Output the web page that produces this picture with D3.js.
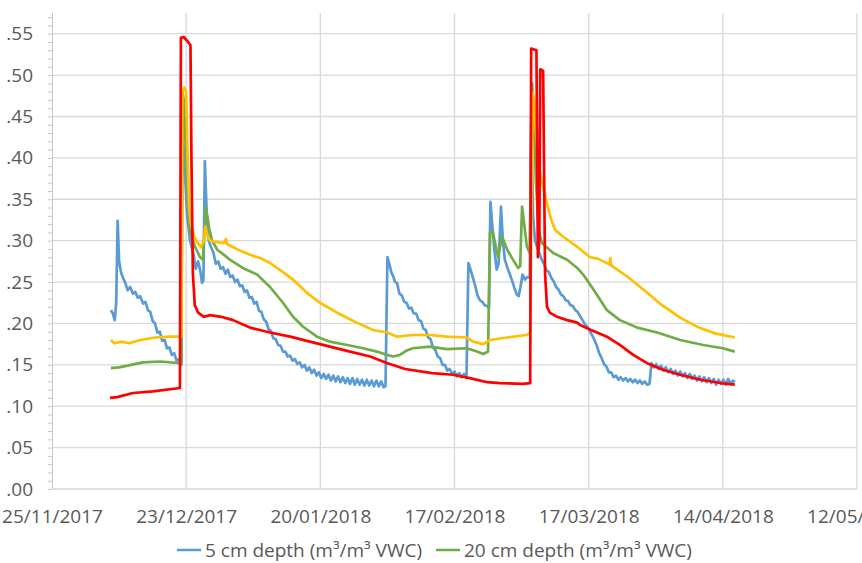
<!DOCTYPE html>
<html>
<head>
<meta charset="utf-8">
<script src="https://cdn.jsdelivr.net/npm/d3@7"></script>
<style>
  body { margin: 0; background: #fff; }
  text { font-family: "Open Sans", sans-serif; fill: #595959; }
</style>
</head>
<body>
<script>
// day offsets are counted from 25/11/2017
const startDate = Date.UTC(2017, 10, 25);

const blueDays = [12.3,12.7,13.1,13.4,13.7,14.0,14.4,14.8,15.3,15.8,16.3,16.9,17.4,17.9,18.4,19.0,19.5,20.0,20.5,21.0,21.5,22.0,22.5,23.0,23.5,24.0,24.5,25.0,25.5,26.0,26.5,27.0,
  27.2,27.6,28.2,28.8,29.5,30.0,30.5,31.0,31.3,31.6,31.9,
  32.3,32.7,33.2,33.7,34.2,34.7,35.2,35.7,36.2,36.7,37.2,37.7,38.2,38.7,39.2,39.7,40.2,40.7,41.2,41.7,42.2,42.7,43.2,43.7,44.2,44.7,45.2,45.7,46.2,46.7,47.2,47.7,48.2,48.7,49.2,49.7,50.2,50.7,51.2,51.7,52.2,52.7,53.2,53.7,54.2,54.7,55.2,55.7,56.2,56.7,57.2,57.7,58.2,58.7,59.2,59.7,60.2,60.7,61.2,61.7,62.2,62.7,63.2,63.7,64.2,64.7,65.2,65.7,66.2,66.7,67.2,67.7,68.2,68.7,69.2,69.6,
  70.0,70.4,70.8,71.2,71.6,72.0,72.5,73.0,73.5,74.0,74.5,75.0,75.5,76.0,76.5,77.0,77.5,78.0,78.5,79.0,79.5,80.0,80.5,81.0,81.5,82.0,82.5,83.0,83.5,84.0,84.5,85.0,85.5,86.0,86.5,
  86.9,87.3,87.8,88.3,88.8,89.3,89.8,90.3,90.8,91.2,
  91.5,91.9,92.3,92.8,93.2,
  93.7,94.1,94.5,95.0,95.5,96.0,96.5,97.0,97.4,97.8,98.2,98.7,99.2,99.7,
  100.0,100.4,100.8,101.2,101.7,102.2,102.7,103.2,103.7,104.2,104.7,105.2,105.7,106.2,106.7,107.2,107.7,108.2,108.7,109.2,109.7,110.2,110.7,111.2,111.7,112.2,112.7,113.2,113.7,114.2,114.7,115.2,115.7,116.2,116.7,117.2,117.7,118.2,118.7,119.2,119.7,120.2,120.7,121.2,121.7,122.2,122.7,123.2,123.7,124.2,124.7,
  125.1,125.6,126.1,126.6,127.1,127.6,128.1,128.6,129.1,129.6,130.1,130.6,131.1,131.6,132.1,132.6,133.1,133.6,134.1,134.6,135.1,135.6,136.1,136.6,137.1,137.6,138.1,138.6,139.1,139.6,140.1,140.6,141.1,141.6,142.1,142.5];
const blueVals = [0.216,0.212,0.204,0.225,0.324,0.275,0.262,0.255,0.249,0.240,0.244,0.236,0.238,0.231,0.233,0.224,0.226,0.216,0.214,0.203,0.200,0.189,0.190,0.179,0.180,0.170,0.171,0.162,0.164,0.155,0.157,0.150,
  0.430,0.400,0.330,0.300,0.285,0.266,0.275,0.262,0.249,0.252,0.396,
  0.330,0.300,0.292,0.285,0.272,0.275,0.266,0.268,0.260,0.265,0.256,0.258,0.250,0.253,0.245,0.246,0.238,0.240,0.231,0.232,0.224,0.226,0.215,0.214,0.205,0.202,0.193,0.191,0.182,0.181,0.174,0.173,0.166,0.166,0.160,0.161,0.155,0.157,0.151,0.153,0.147,0.150,0.143,0.147,0.140,0.144,0.137,0.141,0.134,0.139,0.133,0.138,0.131,0.137,0.130,0.136,0.129,0.135,0.128,0.134,0.127,0.134,0.126,0.133,0.126,0.132,0.125,0.132,0.125,0.131,0.124,0.131,0.124,0.130,0.123,0.124,
  0.280,0.272,0.262,0.257,0.250,0.249,0.236,0.234,0.226,0.225,0.218,0.219,0.212,0.212,0.204,0.203,0.194,0.192,0.183,0.181,0.171,0.168,0.160,0.158,0.150,0.150,0.143,0.145,0.139,0.142,0.136,0.140,0.135,0.139,0.134,
  0.273,0.266,0.256,0.246,0.234,0.228,0.226,0.222,0.221,0.218,
  0.347,0.318,0.290,0.265,0.272,
  0.341,0.300,0.277,0.268,0.260,0.252,0.243,0.235,0.233,0.245,0.259,0.253,0.256,0.255,
  0.450,0.330,0.300,0.293,0.285,0.277,0.272,0.264,0.262,0.255,0.251,0.244,0.241,0.235,0.233,0.228,0.227,0.222,0.221,0.216,0.214,0.209,0.204,0.199,0.196,0.191,0.186,0.180,0.173,0.164,0.158,0.151,0.148,0.141,0.141,0.135,0.137,0.132,0.135,0.131,0.134,0.130,0.133,0.129,0.132,0.128,0.131,0.127,0.130,0.126,0.127,
  0.152,0.147,0.151,0.145,0.149,0.143,0.147,0.141,0.145,0.139,0.143,0.137,0.142,0.136,0.140,0.134,0.139,0.133,0.137,0.131,0.136,0.130,0.135,0.129,0.134,0.128,0.133,0.126,0.132,0.127,0.132,0.126,0.133,0.127,0.131,0.129];

const greenDays = [12.3,14.0,16.5,19.0,22.5,26.7,27.0,27.2,27.5,28.0,28.3,28.8,29.8,30.9,31.5,32.1,32.8,33.4,34.5,36.3,37.1,39.8,42.8,45.5,48.2,50.3,52.4,55.3,58.0,61.6,64.9,67.8,69.9,71.2,72.6,73.9,75.3,78.9,82.4,86.6,88.7,90.0,91.0,91.4,92.0,93.1,93.9,95.0,96.2,97.3,97.7,98.1,99.1,99.7,100.2,100.7,101.0,101.6,102.3,104.6,107.5,109.6,111.0,113.0,115.8,118.5,122.1,126.3,131.1,135.9,140.0,142.5];
const greenVals = [0.146,0.147,0.150,0.153,0.154,0.152,0.152,0.480,0.470,0.400,0.360,0.313,0.293,0.280,0.277,0.341,0.315,0.300,0.289,0.281,0.277,0.267,0.259,0.244,0.225,0.208,0.196,0.184,0.178,0.174,0.170,0.166,0.162,0.160,0.162,0.167,0.170,0.172,0.169,0.170,0.166,0.163,0.166,0.310,0.310,0.280,0.305,0.289,0.277,0.267,0.269,0.341,0.293,0.285,0.490,0.420,0.370,0.310,0.297,0.285,0.277,0.267,0.258,0.241,0.216,0.204,0.195,0.189,0.180,0.174,0.170,0.166];

const yellowDays = [12.3,13.0,14.5,16.0,18.5,21.5,24.5,27.0,27.2,27.6,28.0,28.3,28.6,29.0,29.7,30.3,31.1,31.7,32.0,32.5,33.0,34.7,35.9,36.3,36.5,37.8,39.2,41.3,43.4,45.5,48.2,50.3,53.2,55.9,59.5,63.6,67.0,70.0,72.0,75.3,78.9,82.4,86.6,87.9,90.0,91.4,95.0,99.1,99.8,100.3,100.6,101.0,101.6,102.2,102.7,103.3,104.2,105.0,106.6,109.5,112.3,114.0,116.4,116.5,116.7,120.0,123.6,127.3,131.1,135.0,138.4,142.5];
const yellowVals = [0.180,0.176,0.178,0.176,0.180,0.183,0.184,0.184,0.480,0.485,0.480,0.400,0.340,0.320,0.305,0.298,0.292,0.300,0.317,0.305,0.300,0.298,0.297,0.302,0.296,0.292,0.288,0.283,0.279,0.273,0.262,0.253,0.237,0.225,0.213,0.201,0.192,0.189,0.184,0.186,0.186,0.184,0.183,0.178,0.175,0.180,0.183,0.186,0.189,0.479,0.470,0.430,0.390,0.372,0.360,0.345,0.325,0.313,0.305,0.293,0.280,0.278,0.271,0.279,0.270,0.257,0.240,0.222,0.207,0.195,0.188,0.183];

const redDays = [12.1,13.6,16.9,21.1,26.7,26.9,27.5,28.4,28.9,29.1,29.4,29.8,30.5,31.7,33.0,35.3,37.8,41.3,45.5,49.7,53.8,58.0,62.2,66.4,70.0,73.7,79.3,83.7,87.2,90.8,93.5,98.3,99.8,100.0,101.1,101.4,101.7,101.9,102.5,102.9,103.3,103.9,105.4,107.5,109.6,110.2,112.5,115.8,118.5,121.3,124.2,127.5,131.1,135.3,139.5,142.5];
const redVals = [0.110,0.111,0.116,0.118,0.122,0.545,0.546,0.540,0.536,0.400,0.260,0.222,0.213,0.208,0.210,0.208,0.204,0.195,0.189,0.184,0.178,0.172,0.166,0.160,0.152,0.145,0.140,0.138,0.134,0.129,0.128,0.127,0.128,0.532,0.530,0.280,0.300,0.507,0.505,0.260,0.220,0.213,0.208,0.204,0.201,0.198,0.192,0.184,0.174,0.162,0.152,0.144,0.138,0.132,0.128,0.126];

const tickLabels = ["25/11/2017", "23/12/2017", "20/01/2018", "17/02/2018", "17/03/2018", "14/04/2018", "12/05/2018"];
const yTicks = [0, 0.05, 0.10, 0.15, 0.20, 0.25, 0.30, 0.35, 0.40, 0.45, 0.50, 0.55];
const legendLabels = ["5 cm depth (m³/m³ VWC)", "20 cm depth (m³/m³ VWC)"];

let margin = {top: 13, right: 5, bottom: 74, left: 52},
    width = 862 - margin.left - margin.right,
    height = 563 - margin.top - margin.bottom;

let parseDate = d3.utcParse("%d/%m/%Y");
let tickDates = tickLabels.map(parseDate);
let toDate = (d) => new Date(startDate + d * 864e5);

let x = d3.scaleUtc()
    .domain([tickDates[0], tickDates[tickDates.length - 1]])
    .range([0, width]);

let y = d3.scaleLinear()
    .domain([0, 0.575])
    .range([height, 0]);

let root = d3.select("body").append("svg")
    .attr("width", 862)
    .attr("height", 563);

let svg = root.append("g")
    .attr("transform", "translate(" + margin.left + "," + margin.top + ")");

// grid
svg.append("g").selectAll("line")
    .data(yTicks)
    .enter().append("line")
    .attr("x1", 0).attr("x2", width)
    .attr("y1", d => y(d)).attr("y2", d => y(d))
    .attr("stroke", "#d9d9d9")
    .attr("stroke-width", 1.3);

svg.append("g").selectAll("line")
    .data(tickDates.slice(1))
    .enter().append("line")
    .attr("x1", d => x(d)).attr("x2", d => x(d))
    .attr("y1", 0).attr("y2", height)
    .attr("stroke", "#d9d9d9")
    .attr("stroke-width", 1.3);

// y axis with minor ticks
let minor = svg.append("g")
    .call(d3.axisLeft(y).tickValues(d3.range(0, 58).map(i => i / 100)).tickSize(4).tickFormat(""));
minor.selectAll("line").attr("stroke", "#c8c8c8");
minor.select(".domain").attr("stroke", "#c8c8c8").attr("d", "M0.5,0V" + height);

// labels show without the leading zero, as in the picture
let yAxis = svg.append("g")
    .call(d3.axisLeft(y).tickValues(yTicks).tickSize(0).tickPadding(19)
        .tickFormat(d => d3.format(".2f")(d).replace(/^0/, "")));
yAxis.select(".domain").remove();
yAxis.selectAll("text")
    .style("font-family", '"Open Sans", sans-serif')
    .style("font-size", "19px")
    .attr("fill", "#595959");

// x axis labels
let xAxis = svg.append("g")
    .attr("transform", "translate(0," + height + ")")
    .call(d3.axisBottom(x).tickValues(tickDates).tickSize(0).tickPadding(21).tickFormat(d3.utcFormat("%d/%m/%Y")));
xAxis.select(".domain").remove();
xAxis.selectAll("text")
    .style("font-family", '"Open Sans", sans-serif')
    .style("font-size", "19px")
    .attr("fill", "#595959");

// lines
let series = [
    {days: blueDays, vals: blueVals, color: "#5b9bd5"},
    {days: greenDays, vals: greenVals, color: "#70ad47"},
    {days: yellowDays, vals: yellowVals, color: "#ffc000"},
    {days: redDays, vals: redVals, color: "#ff0000"}
];

let line = d3.line()
    .x(d => x(toDate(d[0])))
    .y(d => y(d[1]));

svg.selectAll(".series")
    .data(series)
    .enter().append("path")
    .attr("class", "series")
    .attr("d", s => line(d3.zip(s.days, s.vals)))
    .attr("fill", "none")
    .attr("stroke", s => s.color)
    .attr("stroke-width", 2.7)
    .attr("stroke-linejoin", "round");

// legend
let legend = root.append("g");
let legendX = [177, 436];
legendLabels.forEach((label, i) => {
    legend.append("line")
        .attr("x1", legendX[i]).attr("x2", legendX[i] + 24)
        .attr("y1", 550).attr("y2", 550)
        .attr("stroke", series[i].color)
        .attr("stroke-width", 2.5);
    legend.append("text")
        .attr("x", legendX[i] + 28)
        .attr("y", 550)
        .attr("dy", "0.35em")
        .style("font-size", "19px")
        .text(label);
});
</script>
</body>
</html>
